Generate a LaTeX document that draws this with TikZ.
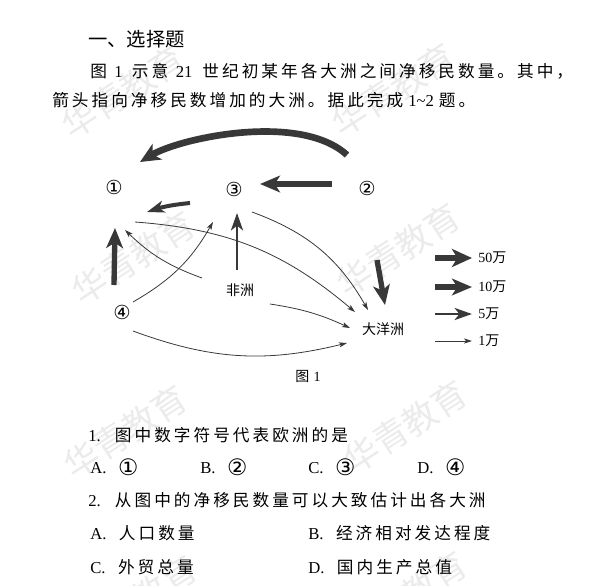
\documentclass[tikz,border=0pt]{standalone}
\usepackage{fontspec}
\setmainfont{Liberation Serif}
\newfontfamily\cjk[LetterSpace=18]{Noto Sans CJK SC}
\newfontfamily\cjkd{Noto Sans CJK SC}
\newfontfamily\circledfont{DejaVu Sans}
\newcommand\optnum[1]{\raisebox{-1.5pt}{\circledfont\fontsize{17pt}{18pt}\selectfont #1}}
\usetikzlibrary{arrows.meta,positioning,calc}

\begin{document}
\begin{tikzpicture}[x=0.75pt,y=-0.75pt,
  body/.style={anchor=west,inner sep=0pt,font=\fontsize{12.5pt}{15pt}\selectfont},
  lbl/.style={inner sep=0pt,font=\fontsize{10.5pt}{12pt}\selectfont\cjkd},
  cnum/.style={inner sep=0pt,font=\fontsize{14.5pt}{16pt}\selectfont\circledfont},
  wmark/.style={rotate=33,text=black!8,font=\fontsize{26pt}{30pt}\selectfont\cjkd},
  flow/.style={draw=black!78},
  w50/.style={flow,line width=5pt,-{Stealth[length=15pt,width=13.5pt,inset=4pt]}},
  w10/.style={flow,line width=4pt,-{Stealth[length=15pt,width=12.5pt,inset=4pt]}},
  w5/.style={flow,line width=2.2pt,-{Stealth[length=13pt,width=9pt,inset=3.5pt]}},
  w1/.style={flow,line width=0.6pt,-{Stealth[length=6pt,width=3.8pt,inset=1.5pt]}}]
\useasboundingbox (0,0) rectangle (605,585);

\begin{scope}
\clip (0,0) rectangle (605,585);
\foreach \wx/\wy in {123/92,393/90,133/258,398/250,125/432,405/427,135/602,405/598}
  \node[wmark] at (\wx,\wy) {华青教育};
\end{scope}

\node[body,font=\fontsize{14.5pt}{17pt}\selectfont\cjkd] (head) at (88,39) {一、选择题};
\node[body] (intro1) at (90,71) {{\cjk 图}\hspace{.45em}1\hspace{.55em}{\cjk 示意}\hspace{.45em}21\hspace{.6em}{\cjk 世纪初某年各大洲之间净移民数量。其中，}};
\node[body] (intro2) at (52,100) {{\cjk 箭头指向净移民数增加的大洲。据此完成}\hspace{.3em}1\textasciitilde 2\hspace{.3em}{\cjk 题。}};

% diagram
\node[cnum] (n1) at (114,187) {①};
\node[cnum] (n3) at (234,189) {③};
\node[cnum] (n2) at (367,188) {②};
\node[cnum] (n4) at (122,312) {④};
\node[lbl] (afr) at (240,290) {非洲};
\node[lbl] (oce) at (383,329) {大洋洲};
\node[lbl] (fig) at (308,376) {图\hspace{.3em}{\rmfamily 1}};

\draw[w50] ($(n2)+(-20,-33)$) .. controls ($(n2)+(-67,-76)$) and ($(n1)+(66,-49)$) .. ($(n1)+(26,-25)$);
\draw[w10] ($(n2)+(-35,-4)$) -- ($(n3)+(26,-5)$);
\draw[w5,line width=3pt] ($(n3)+(-44,14)$) to[bend right=6] ($(n1)+(33,25)$);
\draw[w10] ($(n4)+(-8,-27)$) -- ($(n1)+(1,41)$);
\draw[w5] ($(afr)+(-3,-20)$) -- ($(n3)+(3,24)$);
\draw[w10] ($(n2)+(10,72)$) -- ($(oce)+(2,-24)$);
\draw[w1] ($(afr)+(-38,-12)$) to[bend left=12] ($(n1)+(11,43)$);
\draw[w1] ($(n4)+(11,-10)$) to[bend right=15] ($(n3)+(-21,33)$);
\draw[w1] ($(n1)+(21,35)$) to[bend left=18] ($(oce)+(-28,-17)$);
\draw[w1] ($(n3)+(18,23)$) to[bend left=20] ($(oce)+(-15,-19)$);
\draw[w1] ($(afr)+(30,14)$) to[bend left=8] ($(oce)+(-33,-1)$);
\draw[w1] ($(n4)+(11,19)$) to[bend right=17] ($(oce)+(-36,14)$);

% legend
\node[lbl,anchor=west] (l50) at (478,258) {{\rmfamily 50}万};
\node[lbl,anchor=west] (l10) at (478,287) {{\rmfamily 10}万};
\node[lbl,anchor=west] (l5) at (478,314) {{\rmfamily 5}万};
\node[lbl,anchor=west] (l1) at (478,341) {{\rmfamily 1}万};
\draw[w50] ($(l50.west)+(-43,0)$) -- ($(l50.west)+(-6,0)$);
\draw[w10] ($(l10.west)+(-43,0)$) -- ($(l10.west)+(-6,0)$);
\draw[w5] ($(l5.west)+(-43,0)$) -- ($(l5.west)+(-6,0)$);
\draw[w1] ($(l1.west)+(-43,0)$) -- ($(l1.west)+(-6,0)$);

% questions
\node[body] (q1) at (88,435) {1.\hspace{.85em}{\cjk 图中数字符号代表欧洲的是}};
\node[body] (q1a) at (90,467) {A.\hspace{.7em}\optnum{①}};
\node[body] (q1b) at (200,467) {B.\hspace{.7em}\optnum{②}};
\node[body] (q1c) at (308,467) {C.\hspace{.7em}\optnum{③}};
\node[body] (q1d) at (417,467) {D.\hspace{.7em}\optnum{④}};
\node[body] (q2) at (88,500) {2.\hspace{.85em}{\cjk 从图中的净移民数量可以大致估计出各大洲}};
\node[body] (q2a) at (90,533) {A.\hspace{.75em}{\cjk 人口数量}};
\node[body] (q2b) at (308,533) {B.\hspace{.75em}{\cjk 经济相对发达程度}};
\node[body] (q2c) at (90,567) {C.\hspace{.75em}{\cjk 外贸总量}};
\node[body] (q2d) at (308,567) {D.\hspace{.75em}{\cjk 国内生产总值}};
\end{tikzpicture}
\end{document}
